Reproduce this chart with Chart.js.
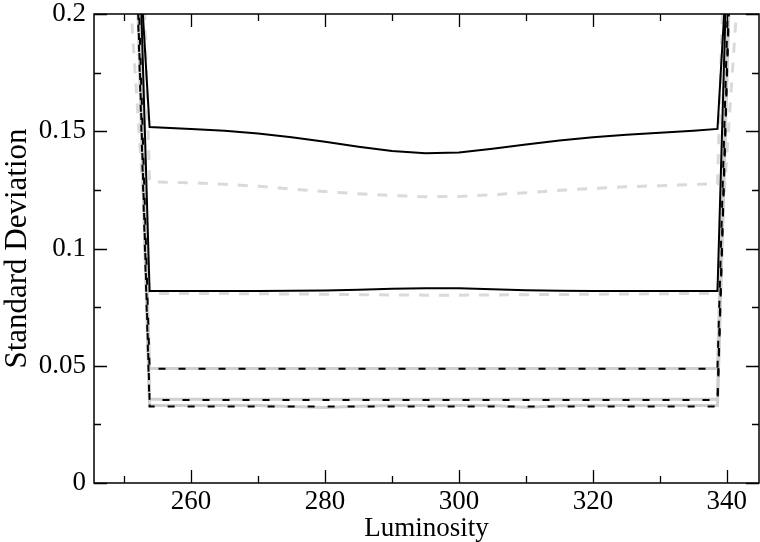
<!DOCTYPE html>
<html lang="en">
<head>
  <meta charset="UTF-8">
  <title>Standard Deviation vs Luminosity</title>
  <script src="https://cdn.jsdelivr.net/npm/chart.js"></script>
  <style>
    html, body { margin: 0; padding: 0; background: #fff; }
    #wrap { width: 760px; height: 542px; }
  </style>
</head>
<body>
  <div id="wrap"><canvas id="chart"></canvas></div>

  <script>
    // shared luminosity grid for every curve
    const luminosity = [250, 253.8, 260, 265, 270, 275, 280, 285, 290, 295, 300, 305, 310, 315, 320, 325, 330, 335, 338.6, 342];

    const solidTop   = [0.334, 0.1518, 0.1510, 0.1502, 0.1490, 0.1474, 0.1455, 0.1434, 0.1416, 0.1406, 0.1409, 0.1425, 0.1443, 0.1461, 0.1474, 0.1485, 0.1494, 0.1502, 0.1510, 0.318];
    const dashedTop  = [0.50, 0.1284, 0.1280, 0.1274, 0.1265, 0.1254, 0.1243, 0.1233, 0.1226, 0.1221, 0.1222, 0.1229, 0.1238, 0.1248, 0.1256, 0.1263, 0.1268, 0.1273, 0.1276, 0.47];
    const solidMid   = [0.45, 0.0819, 0.0819, 0.0819, 0.0819, 0.0820, 0.0821, 0.0824, 0.0828, 0.0831, 0.0830, 0.0826, 0.0822, 0.0820, 0.0819, 0.0819, 0.0819, 0.0819, 0.0819, 0.42];
    const dashedMid  = [0.247, 0.0808, 0.0808, 0.0808, 0.0807, 0.0806, 0.0805, 0.0803, 0.0802, 0.0801, 0.0801, 0.0802, 0.0803, 0.0804, 0.0805, 0.0806, 0.0807, 0.0808, 0.0808, 0.225];
    const dashedLow1 = [0.42, 0.0487, 0.0487, 0.0487, 0.0487, 0.0487, 0.0487, 0.0487, 0.0487, 0.0487, 0.0487, 0.0487, 0.0487, 0.0487, 0.0487, 0.0487, 0.0487, 0.0487, 0.0487, 0.39];
    const greyLow1   = [0.42, 0.0488, 0.0488, 0.0488, 0.0488, 0.0488, 0.0488, 0.0488, 0.0488, 0.0488, 0.0488, 0.0488, 0.0488, 0.0488, 0.0488, 0.0488, 0.0488, 0.0488, 0.0488, 0.39];
    const dashedLow2 = [0.405, 0.0354, 0.0354, 0.0354, 0.0354, 0.0354, 0.0354, 0.0354, 0.0354, 0.0354, 0.0354, 0.0354, 0.0354, 0.0354, 0.0354, 0.0354, 0.0354, 0.0354, 0.0354, 0.375];
    const greyLow2   = [0.405, 0.0357, 0.0357, 0.0357, 0.0357, 0.0357, 0.0357, 0.0357, 0.0357, 0.0357, 0.0357, 0.0357, 0.0357, 0.0357, 0.0357, 0.0357, 0.0357, 0.0357, 0.0357, 0.375];
    const dashedLow3 = [0.40, 0.0326, 0.0326, 0.0326, 0.0326, 0.0326, 0.0326, 0.0326, 0.0326, 0.0326, 0.0326, 0.0326, 0.0326, 0.0326, 0.0326, 0.0326, 0.0326, 0.0326, 0.0326, 0.37];
    const greyLow3   = [0.40, 0.0331, 0.0331, 0.0331, 0.0330, 0.0326, 0.0322, 0.0327, 0.0331, 0.0331, 0.0331, 0.0330, 0.0323, 0.0329, 0.0331, 0.0331, 0.0331, 0.0331, 0.0331, 0.37];

    const xTickValues = [250, 260, 270, 280, 290, 300, 310, 320, 330, 340];
    const xTickLabels = ['', '260', '', '280', '', '300', '', '320', '', '340'];
    const yTickValues = [0, 0.025, 0.05, 0.075, 0.1, 0.125, 0.15, 0.175, 0.2];
    const yTickLabels = ['0', '', '0.05', '', '0.1', '', '0.15', '', '0.2'];

    const serif = 'Liberation Serif, Times New Roman, serif';

    function pts(values) {
      return luminosity.map((x, i) => ({ x: x, y: values[i] }));
    }

    function line(values, color, width, dash) {
      return {
        data: pts(values),
        borderColor: color,
        borderWidth: width,
        borderDash: dash,
        pointRadius: 0,
        showLine: true,
        fill: false,
        tension: 0
      };
    }

    // frame plus inward ticks on all four sides
    const frameTicks = {
      id: 'frameTicks',
      afterDatasetsDraw(chart) {
        const { ctx, chartArea: a, scales: { x, y } } = chart;
        ctx.save();
        ctx.strokeStyle = '#000';
        ctx.lineWidth = 1.5;
        ctx.strokeRect(a.left, a.top, a.right - a.left, a.bottom - a.top);
        ctx.lineWidth = 1.3;
        ctx.beginPath();
        xTickValues.forEach((v, i) => {
          const px = Math.round(x.getPixelForValue(v)) + 0.5;
          const len = xTickLabels[i] ? 13 : 7;
          ctx.moveTo(px, a.bottom); ctx.lineTo(px, a.bottom - len);
          ctx.moveTo(px, a.top); ctx.lineTo(px, a.top + len);
        });
        yTickValues.forEach((v, i) => {
          const py = Math.round(y.getPixelForValue(v)) + 0.5;
          const len = yTickLabels[i] ? 13 : 7;
          ctx.moveTo(a.left, py); ctx.lineTo(a.left + len, py);
          ctx.moveTo(a.right, py); ctx.lineTo(a.right - len, py);
        });
        ctx.stroke();
        ctx.restore();
      }
    };

    new Chart(document.getElementById('chart'), {
      type: 'scatter',
      data: {
        datasets: [
          line(solidTop, '#000', 2, []),
          line(solidMid, '#000', 2, []),
          line(dashedLow1, '#000', 2, [7, 13]),
          line(dashedLow2, '#000', 2, [7, 13]),
          line(dashedLow3, '#000', 2, [7, 13]),
          line(greyLow1, '#d0d0d0', 3, []),
          line(greyLow2, '#d0d0d0', 3, []),
          line(greyLow3, '#d0d0d0', 3, []),
          line(dashedTop, '#dadada', 3, [10, 10]),
          line(dashedMid, '#dadada', 3, [10, 10])
        ]
      },
      options: {
        responsive: true,
        maintainAspectRatio: false,
        animation: false,
        layout: { padding: { top: 14, right: 1, left: 0, bottom: 0 } },
        plugins: { legend: { display: false }, tooltip: { enabled: false } },
        scales: {
          x: {
            type: 'linear',
            min: 245.5,
            max: 344.8,
            afterFit(s) { s.height = 59; },
            afterBuildTicks(s) { s.ticks = xTickValues.map(v => ({ value: v })); },
            grid: { display: false, drawTicks: false },
            border: { display: false },
            ticks: {
              autoSkip: false,
              maxRotation: 0,
              padding: 3,
              color: '#000',
              font: { family: serif, size: 27 },
              callback: (v, i) => xTickLabels[i]
            },
            title: {
              display: true,
              text: 'Luminosity',
              color: '#000',
              padding: 0,
              font: { family: serif, size: 27, lineHeight: 1 }
            }
          },
          y: {
            type: 'linear',
            min: 0,
            max: 0.2,
            afterFit(s) {
              s.width = 94;
              // keep the top label from pushing the plot area down
              s.paddingTop = 0;
              s.paddingBottom = 0;
            },
            afterBuildTicks(s) { s.ticks = yTickValues.map(v => ({ value: v })); },
            grid: { display: false, drawTicks: false },
            border: { display: false },
            ticks: {
              autoSkip: false,
              padding: 8,
              color: '#000',
              font: { family: serif, size: 27, lineHeight: 1 },
              callback: (v, i) => yTickLabels[i]
            },
            title: {
              display: true,
              text: 'Standard Deviation',
              color: '#000',
              padding: { top: 2, bottom: 0 },
              font: { family: serif, size: 31, lineHeight: 1 }
            }
          }
        }
      },
      plugins: [frameTicks]
    });
  </script>
</body>
</html>
